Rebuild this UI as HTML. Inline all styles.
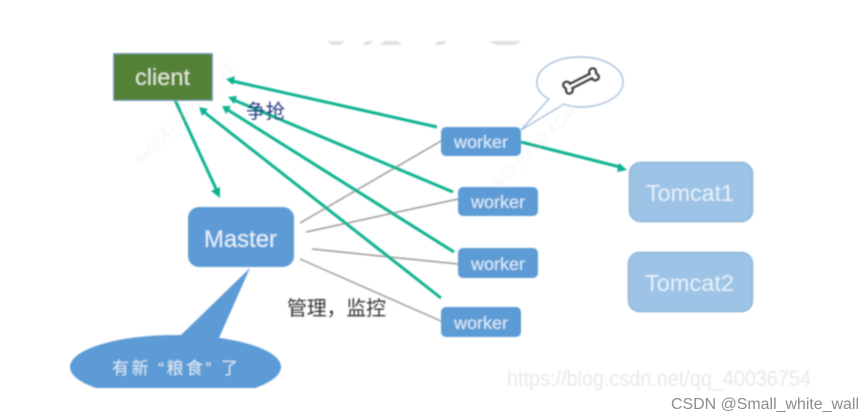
<!DOCTYPE html>
<html>
<head>
<meta charset="utf-8">
<style>
html,body{margin:0;padding:0;background:#fff;width:863px;height:419px;overflow:hidden}
svg{display:block}
text{font-family:"Liberation Sans","Noto Sans CJK SC",sans-serif}
</style>
</head>
<body>
<svg width="863" height="419" viewBox="0 0 863 419" xmlns="http://www.w3.org/2000/svg">
<defs>
<filter id="b" x="-5%" y="-5%" width="110%" height="110%"><feGaussianBlur stdDeviation="0.7"/></filter>
<clipPath id="cut"><rect x="0" y="0" width="863" height="388"/></clipPath>
</defs>
<rect width="863" height="419" fill="#fff"/>
<g filter="url(#b)">
<!-- faint watermarks -->
<g fill="#f6f6f6" font-size="16">
<text transform="translate(142,165) rotate(-45)">fw884708-804C:4F</text>
<text transform="translate(500,190) rotate(-45)">842,02:00:4C4F:4F:50</text>
</g>
<!-- top remnants -->
<g fill="#e2e2e2">
<polygon points="328,41 344,41 341,45 331,45"/>
<polygon points="366,41 374,41 369,45 362,45"/>
<polygon points="384,41 397,41 402,45 380,45"/>
<polygon points="438,41 447,41 443,45 434,45"/>
<polygon points="488,41 522,41 515,45 496,45"/>
</g>
<!-- grey lines -->
<g stroke="#999" stroke-width="1.500" fill="none">
<line x1="300" y1="223" x2="441" y2="141"/>
<line x1="306" y1="232" x2="458" y2="199"/>
<line x1="312" y1="249" x2="458" y2="264"/>
<line x1="300" y1="259" x2="441" y2="321"/>
</g>
<!-- green arrows -->
<g stroke="#0fb290" stroke-width="3" fill="none">
<line x1="437" y1="127" x2="232" y2="81"/>
<line x1="453" y1="192" x2="234" y2="100"/>
<line x1="454" y1="252" x2="228" y2="110"/>
<line x1="441" y1="298" x2="204" y2="112"/>
<line x1="175" y1="100" x2="217" y2="191"/>
<line x1="521" y1="142" x2="620" y2="167"/>
</g>
<g fill="#0fb290">
<polygon points="226,79 235,76 233,85"/>
<polygon points="228,97 237,96 234,104"/>
<polygon points="222,106 231,106 226,114"/>
<polygon points="199,107 208,109 202,116"/>
<polygon points="220,198 211,191 220,187"/>
<polygon points="627,170 617,172 619,163"/>
</g>
<!-- client -->
<rect x="113.500" y="53.500" width="99" height="47" fill="#538135" stroke="#85a6c4" stroke-width="1"/>
<text x="135" y="85" font-size="23" fill="#dfe8d6" textLength="55" lengthAdjust="spacingAndGlyphs">client</text>
<text x="246" y="118" font-size="19.500" fill="#2c3a80" textLength="39">争抢</text>
<!-- Master + callout -->
<rect x="188" y="207" width="106" height="60" rx="11" fill="#5b9bd5"/>
<text x="204" y="247" font-size="24" fill="#e8f1fb" textLength="73" lengthAdjust="spacingAndGlyphs">Master</text>
<g clip-path="url(#cut)">
<ellipse cx="175.500" cy="367" rx="105.500" ry="32" fill="#5b9bd5"/>
<polygon points="250,268 180,336 219,338" fill="#5b9bd5"/>
</g>
<text x="112" y="374" font-size="17" fill="#dbe8f6" textLength="126">有新 “粮食” 了</text>
<text x="287" y="315" font-size="20" fill="#333" textLength="99">管理，监控</text>
<!-- workers -->
<g fill="#5b9bd5">
<rect x="441" y="127" width="80" height="29" rx="5"/>
<rect x="458" y="187" width="80" height="29" rx="5"/>
<rect x="458" y="248" width="80" height="30" rx="5"/>
<rect x="441" y="307" width="80" height="30" rx="5"/>
</g>
<g font-size="17.500" fill="#e2edf9">
<text x="454" y="148" textLength="54" lengthAdjust="spacingAndGlyphs">worker</text>
<text x="471" y="208" textLength="54" lengthAdjust="spacingAndGlyphs">worker</text>
<text x="471" y="270" textLength="54" lengthAdjust="spacingAndGlyphs">worker</text>
<text x="454" y="329" textLength="54" lengthAdjust="spacingAndGlyphs">worker</text>
</g>
<!-- bubble -->
<path d="M521,130 L549,99 C535,92 537,82 537,82 C537,68 556,57 580,57 C604,57 623,68 623,82 C623,96 604,107 580,107 C574,107 569,106 564,104 Z" fill="#fff" stroke="#a3bed9" stroke-width="1.400"/>
<!-- bone -->
<g transform="translate(581,81) rotate(-27)">
<path d="M-11,-2.500 L11,-2.500 C11,-7 17,-7.500 18,-4 C18,-2 17.500,-1 17,0 C17.500,1 18,2 18,4 C17,7.500 11,7 11,2.500 L-11,2.500 C-11,7 -17,7.500 -18,4 C-18,2 -17.500,1 -17,0 C-17.500,-1 -18,-2 -18,-4 C-17,-7.500 -11,-7 -11,-2.500 Z" fill="#fff" stroke="#222" stroke-width="2.600"/>
</g>
<!-- tomcats -->
<rect x="629.500" y="162.500" width="123" height="59" rx="11" fill="#9dc3e6" stroke="#8fb4d8" stroke-width="1.500"/>
<rect x="628.500" y="252.500" width="124" height="59" rx="11" fill="#9dc3e6" stroke="#8fb4d8" stroke-width="1.500"/>
<g font-size="23.500" fill="#e6f0fa">
<text x="646" y="201" textLength="88" lengthAdjust="spacingAndGlyphs">Tomcat1</text>
<text x="645" y="291" textLength="89" lengthAdjust="spacingAndGlyphs">Tomcat2</text>
</g>
<!-- watermark text -->
<text x="507" y="386" font-size="22.500" fill="#e8e8e8" textLength="304" lengthAdjust="spacingAndGlyphs">https://blog.csdn.net/qq_40036754</text>
</g>
<text x="671" y="409" font-size="15.500" fill="#8c8c8c" textLength="188" lengthAdjust="spacingAndGlyphs">CSDN @Small_white_wall</text>
</svg>
</body>
</html>
